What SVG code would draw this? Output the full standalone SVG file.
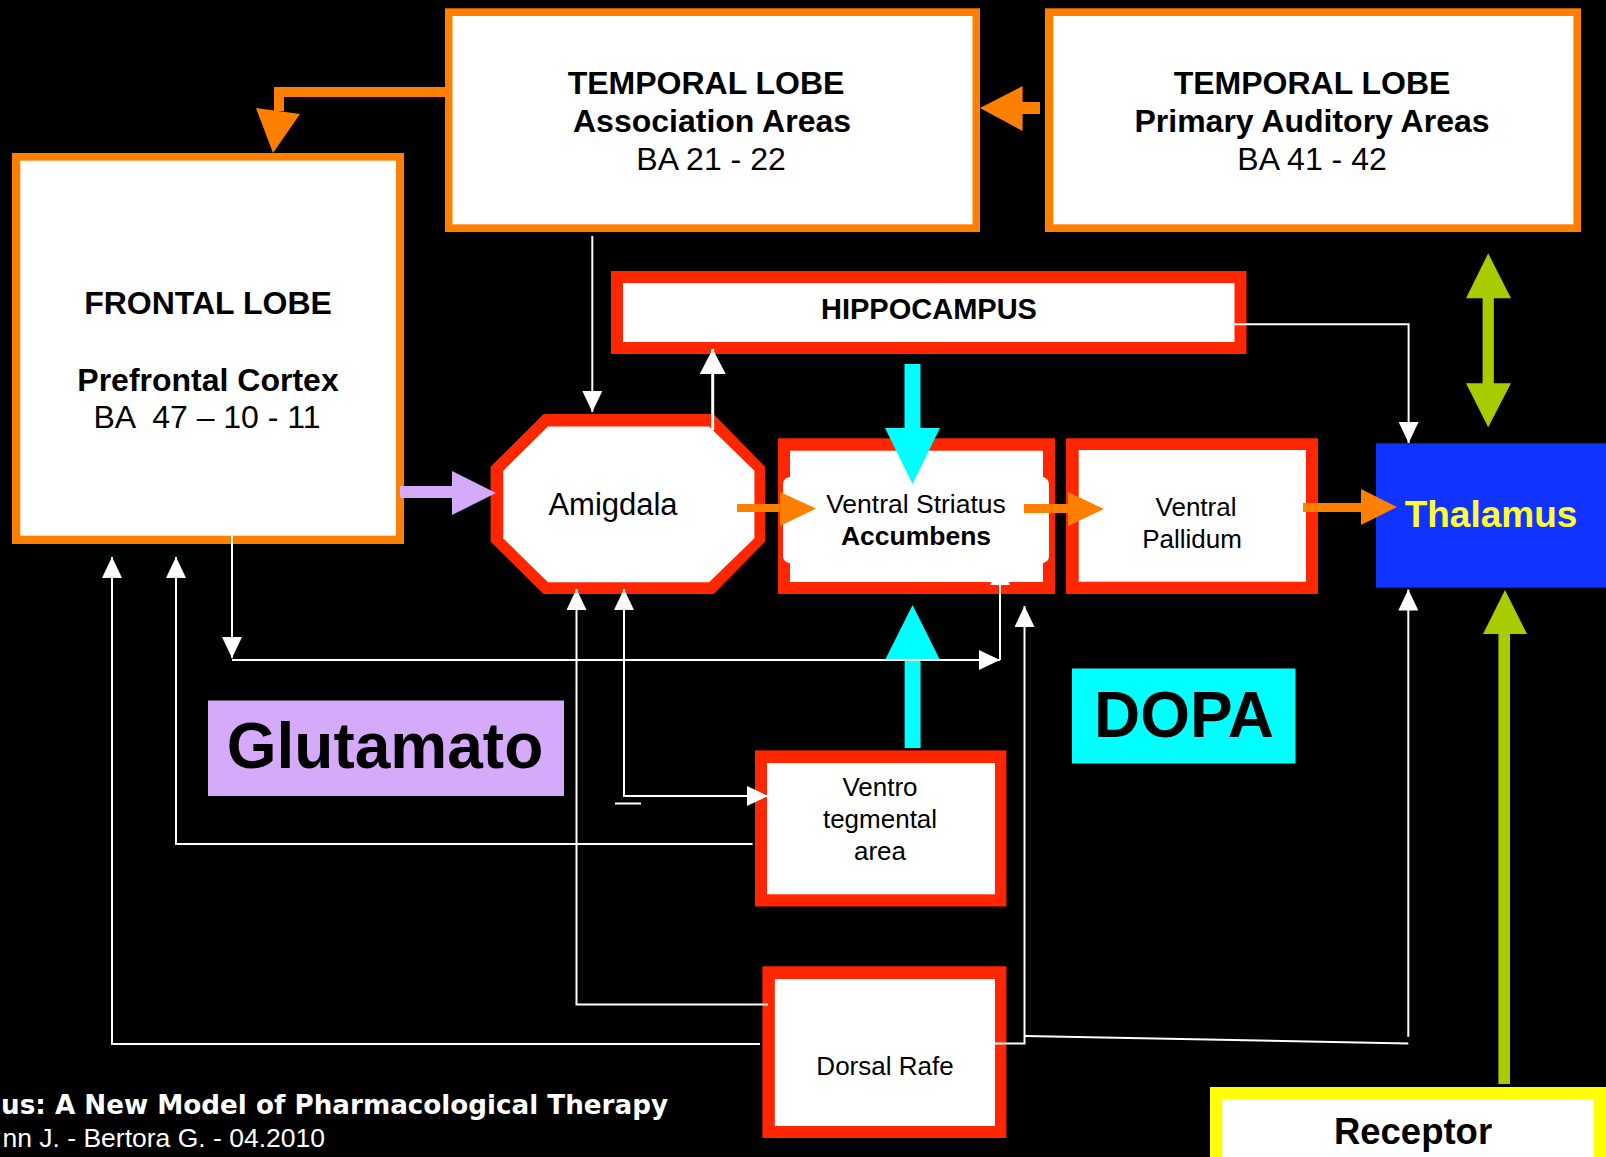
<svg xmlns="http://www.w3.org/2000/svg" width="1606" height="1157" viewBox="0 0 1606 1157">
<style>
.t{font-family:"Liberation Sans",Arial,sans-serif;fill:#000;text-anchor:middle}
.b{font-weight:bold}
.or{fill:#FF8000}
.rd{fill:#FF2600}
.wh{fill:#FFFFFF}
.wl{fill:none;stroke:#FFFFFF;stroke-width:2}
</style>
<defs>
<marker id="wa" markerUnits="userSpaceOnUse" markerWidth="21" markerHeight="20" viewBox="0 0 21 20" refX="21" refY="10" orient="auto-start-reverse">
<path d="M0,0 L21,10 L0,20 Z" fill="#FFFFFF"/>
</marker>
<marker id="wa2" markerUnits="userSpaceOnUse" markerWidth="25" markerHeight="26" viewBox="0 0 25 26" refX="25" refY="13" orient="auto">
<path d="M0,0 L25,13 L0,26 Z" fill="#FFFFFF"/>
</marker>
</defs>
<rect x="0" y="0" width="1606" height="1157" fill="#000000"/>

<g id="frontal-lobe">
<rect class="or" x="12" y="153" width="392" height="391"/>
<rect class="wh" x="20.3" y="160.7" width="375.7" height="375"/>
<text class="t b" x="208" y="314" font-size="32">FRONTAL LOBE</text>
<text class="t b" x="208" y="391" font-size="32">Prefrontal Cortex</text>
<text class="t" x="207" y="428" font-size="32" xml:space="preserve">BA  47 – 10 - 11</text>
</g>

<g id="temporal-association">
<rect class="or" x="445" y="8.3" width="535" height="223.7"/>
<rect class="wh" x="452.5" y="16" width="520" height="208.3"/>
<text class="t b" x="706" y="94" font-size="32">TEMPORAL LOBE</text>
<text class="t b" x="712" y="132" font-size="32">Association Areas</text>
<text class="t" x="711" y="170" font-size="32">BA 21 - 22</text>
</g>

<g id="temporal-primary">
<rect class="or" x="1045" y="8.3" width="536" height="223.7"/>
<rect class="wh" x="1053.4" y="16" width="520" height="208.3"/>
<text class="t b" x="1312" y="94" font-size="32">TEMPORAL LOBE</text>
<text class="t b" x="1312" y="132" font-size="32">Primary Auditory Areas</text>
<text class="t" x="1312" y="170" font-size="32">BA 41 - 42</text>
</g>

<g id="hippocampus">
<rect class="rd" x="611" y="271" width="635.5" height="83"/>
<rect class="wh" x="623" y="283" width="611.5" height="59"/>
<text class="t b" x="929" y="319" font-size="29">HIPPOCAMPUS</text>
</g>

<g id="amigdala">
<polygon class="rd" points="543.6,414 713.6,414 765,466.7 765,541.7 713.6,594 543.6,594 490.6,541.7 490.6,466.7"/>
<polygon class="wh" points="548,426.5 709,426.5 754.4,470.7 754.4,538.3 709,582.3 548,582.3 503.3,538.3 503.3,470.7"/>
<text class="t" x="613" y="515" font-size="31">Amigdala</text>
</g>

<g id="ventral-striatus">
<rect class="rd" x="778" y="438.3" width="277" height="155.7"/>
<rect class="wh" x="790" y="450.7" width="253" height="131.3"/>
<rect class="wh" x="783" y="477" width="266" height="86" rx="7"/>
<text class="t" x="916" y="513" font-size="26.5">Ventral Striatus</text>
<text class="t b" x="916" y="545" font-size="26.5">Accumbens</text>
</g>

<g id="ventral-pallidum">
<rect class="rd" x="1066" y="438.3" width="252" height="155.7"/>
<rect class="wh" x="1078.7" y="450" width="227.3" height="131.7"/>
<text class="t" x="1196" y="516" font-size="26">Ventral</text>
<text class="t" x="1192" y="548" font-size="26">Pallidum</text>
</g>

<g id="thalamus">
<rect x="1376" y="443.3" width="230" height="144.4" fill="#1133FF"/>
<text class="t b" x="1491" y="527" font-size="37" style="fill:#FFFF33">Thalamus</text>
</g>

<g id="glutamato">
<rect x="208" y="700.5" width="356" height="95.5" fill="#D6AAFB"/>
<text class="t b" x="385" y="768" font-size="64">Glutamato</text>
</g>

<g id="dopa">
<rect x="1072" y="668.5" width="223.5" height="95" fill="#00FFFF"/>
<text class="t b" x="1184" y="737" font-size="64">DOPA</text>
</g>

<g id="ventro-tegmental">
<rect class="rd" x="755" y="750.4" width="251.4" height="156.1"/>
<rect class="wh" x="767" y="763" width="228" height="131.3"/>
<text class="t" x="880" y="796" font-size="26">Ventro</text>
<text class="t" x="880" y="828" font-size="26">tegmental</text>
<text class="t" x="880" y="860" font-size="26">area</text>
</g>

<g id="dorsal-rafe">
<rect class="rd" x="762.4" y="966.3" width="244" height="171.7"/>
<rect class="wh" x="774.8" y="979" width="220.2" height="147"/>
<text class="t" x="885" y="1075" font-size="26">Dorsal Rafe</text>
</g>

<g id="receptor">
<rect x="1210" y="1087" width="396" height="80" fill="#FFFF00"/>
<rect class="wh" x="1222.3" y="1099.3" width="371.7" height="70"/>
<text class="t b" x="1413" y="1144" font-size="36.5">Receptor</text>
</g>

<g id="connectors">
<rect class="or" x="1022" y="102" width="18" height="12"/>
<polygon class="or" points="1022.6,86 1022.6,131 980,108"/>
<path d="M445,92 H279 V111" fill="none" stroke="#FF8000" stroke-width="10"/>
<polygon class="or" points="256,108 300,114 273,153"/>
<rect class="or" x="737" y="504" width="44" height="8"/>
<polygon class="or" points="780,492 780,526 816,508.5"/>
<rect class="or" x="1024" y="504" width="45" height="9"/>
<polygon class="or" points="1068,492 1068,526 1104,509"/>
<rect class="or" x="1303" y="503" width="59" height="9"/>
<polygon class="or" points="1361,489 1361,525 1397,507"/>
<rect x="400" y="486" width="52" height="12" fill="#D6AAFB"/>
<polygon points="452,471 452,515 496,493" fill="#D6AAFB"/>
<rect x="904.5" y="364" width="16" height="65" fill="#00FFFF"/>
<polygon points="885,428 940,428 912.5,484" fill="#00FFFF"/>
<rect x="904.6" y="659" width="16" height="89" fill="#00FFFF"/>
<polygon points="885,660 940,660 912.6,605" fill="#00FFFF"/>
<rect x="1482.6" y="297" width="11.2" height="87" fill="#A8CC00"/>
<polygon points="1466,298.3 1511,298.3 1488.2,253.3" fill="#A8CC00"/>
<polygon points="1466,383.3 1511,383.3 1488.2,427.3" fill="#A8CC00"/>
<rect x="1498.4" y="633" width="11.6" height="451" fill="#A8CC00"/>
<polygon points="1483,634 1527,634 1505,590" fill="#A8CC00"/>
<path class="wl" d="M592.3,236 V412" marker-end="url(#wa)"/>
<path d="M712.7,430 V349" fill="none" stroke="#FFFFFF" stroke-width="3" marker-end="url(#wa2)"/>
<path class="wl" d="M232,536 V658" marker-end="url(#wa)"/>
<path class="wl" d="M232,660 H1000" marker-end="url(#wa)"/>
<path class="wl" d="M1000,660 V564" marker-end="url(#wa)"/>
<path class="wl" d="M760,1044 H112 V557" marker-end="url(#wa)"/>
<path class="wl" d="M752.6,844 H176 V557" marker-end="url(#wa)"/>
<path class="wl" d="M768,1004.4 H576.5 V589" marker-end="url(#wa)"/>
<path class="wl" d="M624,589 V796 H768" marker-start="url(#wa)" marker-end="url(#wa)"/>
<path class="wl" d="M615,803.5 H641"/>
<path class="wl" d="M993,1043.5 H1024.5 V606" marker-end="url(#wa)"/>
<path class="wl" d="M1025,1036 L1408.3,1043.5"/>
<path class="wl" d="M1408.3,1036.7 V589.5" marker-end="url(#wa)"/>
<path class="wl" d="M1234.5,324.3 H1408.6 V443" marker-end="url(#wa)"/>
</g>

<text x="668" y="1114" font-family="'DejaVu Sans',Verdana,sans-serif" font-weight="bold" font-size="26.2" fill="#FFFFFF" text-anchor="end">us: A New Model of Pharmacological Therapy</text>
<text x="325" y="1147" font-family="'Liberation Sans',Arial,sans-serif" font-size="26.5" fill="#FFFFFF" text-anchor="end">nn J. - Bertora G. - 04.2010</text>
</svg>
